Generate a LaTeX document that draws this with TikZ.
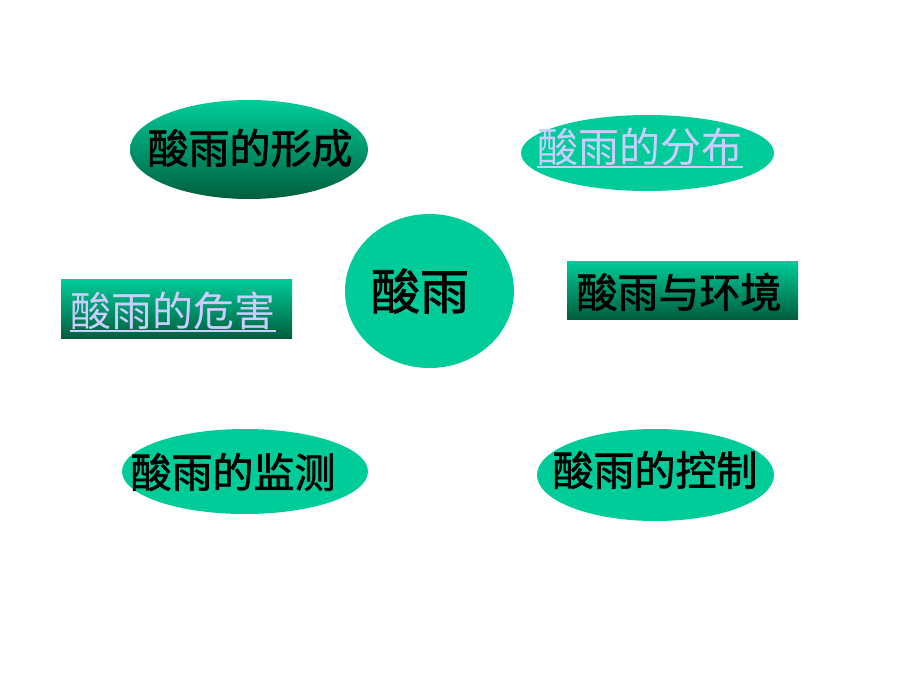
\documentclass[tikz,border=0pt]{standalone}
\usepackage{fontspec}
\newfontfamily\cjk{Noto Sans CJK SC}
\newfontfamily\cjkb[FakeBold=1.6]{Noto Sans CJK SC}
\usetikzlibrary{shapes.geometric}
\definecolor{teal1}{RGB}{0,204,153}
\definecolor{teal2}{RGB}{0,94,62}
\definecolor{lav}{RGB}{204,204,255}
\tikzset{
  oval/.style={ellipse, inner sep=0pt, fill=teal1, draw=none},
  gradoval/.style={ellipse, inner sep=0pt, draw=none, top color=teal1, bottom color=teal2},
  gradbox/.style={rectangle, inner sep=0pt, draw=none, top color=teal1, bottom color=teal2},
  blk/.style={font=\cjkb\fontsize{41}{41}\selectfont, text=black, inner sep=0pt},
  lnk/.style={font=\cjk\fontsize{41}{41}\selectfont, text=lav, inner sep=0pt},
  uline/.style={draw=lav, line width=2.2pt},
}
\begin{document}
\begin{tikzpicture}[x=1pt,y=-1pt]
\useasboundingbox (0,0) rectangle (920,690);
% shapes
\node[gradoval, minimum width=238pt, minimum height=99pt] (s1) at (249,149.5) {};
\node[oval, minimum width=253pt, minimum height=76pt] (s2) at (647.5,153) {};
\node[oval, minimum width=169pt, minimum height=154pt] (s3) at (429.5,291) {};
\node[gradbox, minimum width=231pt, minimum height=59pt] (s4) at (176.5,308.5) {};
\node[gradbox, minimum width=231pt, minimum height=58pt] (s5) at (682.5,290) {};
\node[oval, minimum width=246pt, minimum height=85pt] (s6) at (245,471.5) {};
\node[oval, minimum width=237pt, minimum height=92pt] (s7) at (655.5,475) {};
% texts
\node[blk] (t1) at (250,148) {酸雨的形成};
\node[lnk] (t2) at (640,147) {酸雨的分布};
\node[blk, font=\cjkb\fontsize{49}{49}\selectfont] (t3) at (420,291) {酸雨};
\node[lnk] (t4) at (173,311) {酸雨的危害};
\node[blk] (t5) at (679,292) {酸雨与环境};
\node[blk] (t6) at (233,472) {酸雨的监测};
\node[blk] (t7) at (655,470) {酸雨的控制};
% underlines of the link texts
\draw[uline] ([yshift=-1pt]t2.south west) -- ([yshift=-1pt]t2.south east);
\draw[uline] ([yshift=-1pt]t4.south west) -- ([yshift=-1pt]t4.south east);
\end{tikzpicture}
\end{document}
